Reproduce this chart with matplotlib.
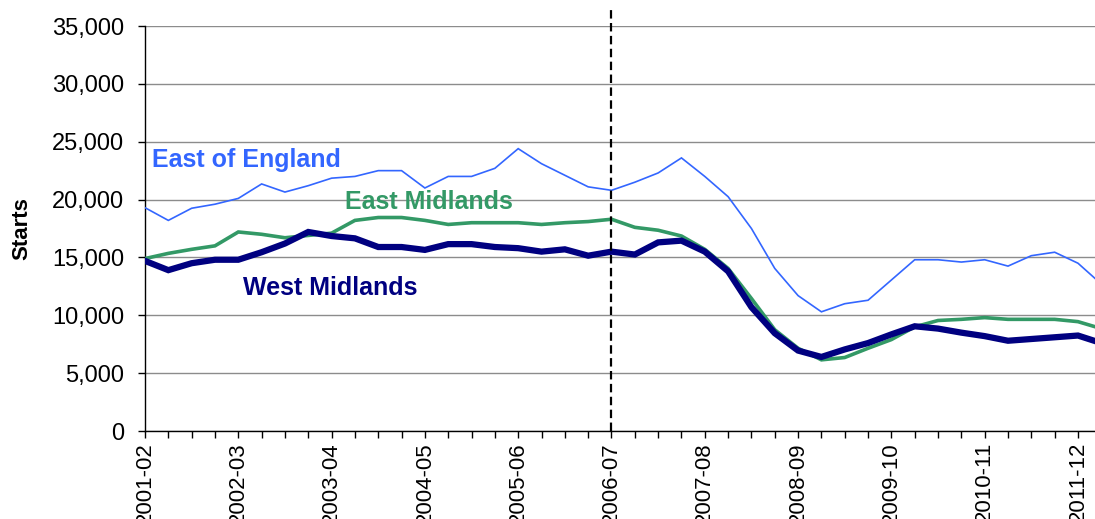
import matplotlib
matplotlib.use("Agg")
import matplotlib.pyplot as plt
from matplotlib.ticker import FuncFormatter, MultipleLocator, FixedLocator

plt.rcParams['font.family'] = ['Liberation Sans', 'DejaVu Sans']

years = ["2001-02", "2002-03", "2003-04", "2004-05", "2005-06", "2006-07",
         "2007-08", "2008-09", "2009-10", "2010-11", "2011-12"]

east_of_england = [19300, 18200, 19250, 19600, 20100, 21350, 20650, 21200, 21850, 22000,
                   22500, 22500, 21000, 22000, 22000, 22700, 24400, 23100, 22100, 21100,
                   20800, 21500, 22300, 23600, 22000, 20250, 17500, 14050, 11700, 10300,
                   11000, 11300, 13050, 14800, 14800, 14600, 14800, 14250, 15150, 15450,
                   14500, 12700]
east_midlands = [14900, 15350, 15700, 16000, 17200, 17000, 16700, 16900, 17100, 18200,
                 18450, 18450, 18200, 17850, 18000, 18000, 18000, 17850, 18000, 18100,
                 18300, 17600, 17350, 16850, 15700, 14050, 11450, 8750, 7150, 6150,
                 6350, 7150, 7900, 9000, 9550, 9650, 9800, 9650, 9650, 9650,
                 9450, 8850]
west_midlands = [14700, 13900, 14500, 14800, 14800, 15450, 16200, 17200, 16850, 16650,
                 15900, 15900, 15650, 16150, 16150, 15900, 15800, 15500, 15700, 15150,
                 15500, 15250, 16300, 16450, 15500, 13800, 10700, 8450, 6950, 6400,
                 7050, 7600, 8350, 9050, 8850, 8500, 8200, 7800, 7950, 8100,
                 8250, 7600]

x = list(range(len(east_of_england)))

fig = plt.figure(figsize=(10.95, 5.19), dpi=100)
ax = fig.add_axes([145/1095, (519-431)/519, 1 - 145/1095, (431-26)/519])

ax.plot(x, east_of_england, color="#3366FF", lw=1.2, zorder=3, solid_joinstyle='miter')
ax.plot(x, east_midlands, color="#339966", lw=2.6, zorder=4, solid_joinstyle='miter')
ax.plot(x, west_midlands, color="#000080", lw=4.5, zorder=5, solid_joinstyle='miter')

ax.set_xlim(0, 40.73)
ax.set_ylim(0, 35000)

ax.yaxis.set_major_locator(MultipleLocator(5000))
ax.yaxis.set_major_formatter(FuncFormatter(lambda v, p: f"{int(v):,}"))
ax.grid(axis='y', color="#8c8c8c", lw=1.0, zorder=0)
ax.set_axisbelow(True)

ax.xaxis.set_major_locator(FixedLocator([4 * i for i in range(len(years))]))
ax.set_xticklabels(years, rotation=90)
ax.xaxis.set_minor_locator(FixedLocator(list(range(0, 41))))

for s in ["top", "right"]:
    ax.spines[s].set_visible(False)
ax.spines["left"].set_color("black")
ax.spines["bottom"].set_color("black")
ax.spines["left"].set_linewidth(1.0)
ax.spines["bottom"].set_linewidth(1.0)

ax.tick_params(axis='y', direction='out', length=5, width=1, pad=10, labelsize=17, colors='black')
ax.tick_params(axis='x', which='major', direction='out', length=5, width=1, pad=3, labelsize=16)
ax.tick_params(axis='x', which='minor', direction='out', length=5, width=1)

ax.set_ylabel("Starts", fontsize=16, fontweight='bold')
ax.yaxis.set_label_coords(-113/950, 0.5)

ax.axvline(20, ymin=0, ymax=(431-6)/405, color="black", ls=(0, (3.8, 2.0)), lw=1.6,
           clip_on=False, zorder=6)

ax.text(0.3, 23400, "East of England", color="#3366FF", fontsize=18, fontweight='bold',
        va='center', ha='left', zorder=7)
ax.text(8.57, 19800, "East Midlands", color="#339966", fontsize=18, fontweight='bold',
        va='center', ha='left', zorder=7)
ax.text(4.2, 12350, "West Midlands", color="#000080", fontsize=18, fontweight='bold',
        va='center', ha='left', zorder=7)

fig.savefig("out.png", dpi=100)
